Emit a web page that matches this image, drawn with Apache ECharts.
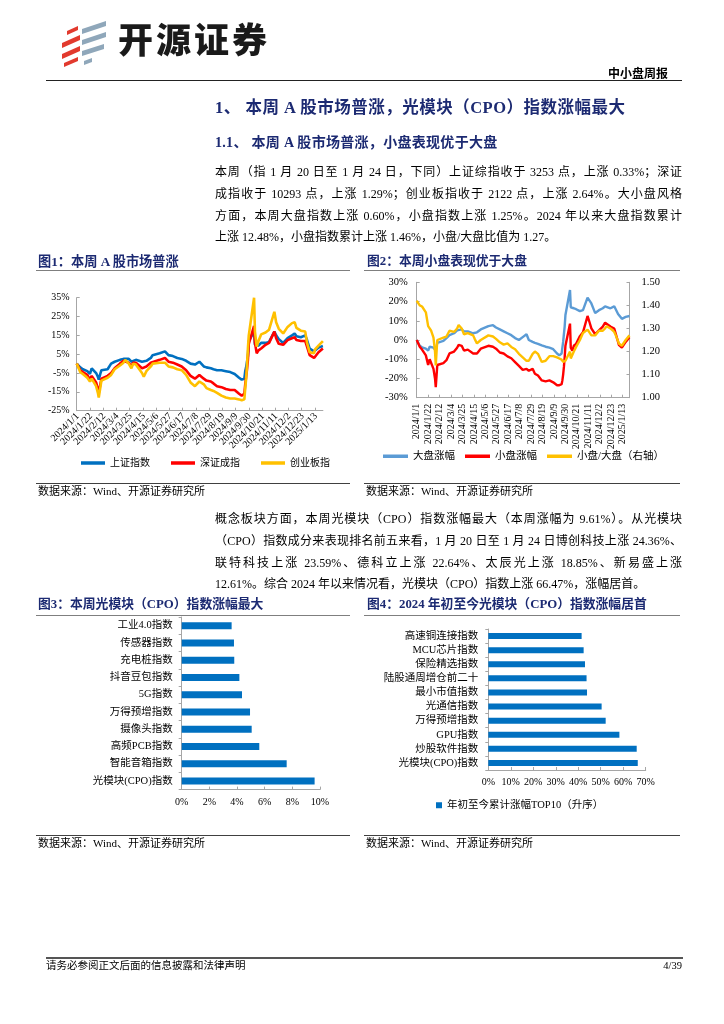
<!DOCTYPE html>
<html><head><meta charset="utf-8">
<script src="https://cdn.jsdelivr.net/npm/echarts@6/dist/echarts.min.js"></script>
<style>
html,body{margin:0;padding:0;background:#fff;}
#page{position:relative;width:724px;height:1024px;overflow:hidden;font-family:"Liberation Serif","Noto Sans CJK SC",serif;color:#000;}
#chart{position:absolute;left:0;top:0;width:724px;height:1024px;}
.t{position:absolute;white-space:nowrap;line-height:1.2;}
.navy{color:#1C2A72;font-weight:bold;}
.hl{position:absolute;height:0;}
.pl{position:absolute;left:215px;width:467px;font-size:12px;line-height:14px;height:14px;text-align:justify;text-align-last:justify;}
.pe{text-align:left;text-align-last:left;}
</style></head>
<body><div id="page">
<div id="chart"></div>

<div class="t" style="left:118px;top:17px;font-family:'Noto Sans CJK SC';font-weight:900;font-size:35px;letter-spacing:3px;color:#1a1a1a;">开源证券</div>
<div class="t" style="right:56px;top:66px;font-size:12px;font-weight:bold;font-family:'Noto Sans CJK SC';">中小盘周报</div>
<div class="hl" style="left:46px;top:80px;width:636px;border-top:1.5px solid #222;"></div>

<div class="t navy" style="left:215px;top:98px;font-size:16.5px;letter-spacing:0.5px;">1、 本周 A 股市场普涨，光模块（CPO）指数涨幅最大</div>
<div class="t navy" style="left:215px;top:134.6px;font-size:14px;letter-spacing:0.3px;">1.1、 本周 A 股市场普涨，小盘表现优于大盘</div>

<div class="pl" style="top:165px;">本周（指 1 月 20 日至 1 月 24 日，下同）上证综指收于 3253 点，上涨 0.33%；深证</div>
<div class="pl" style="top:187px;">成指收于 10293 点，上涨 1.29%；创业板指收于 2122 点，上涨 2.64%。大小盘风格</div>
<div class="pl" style="top:209px;">方面，本周大盘指数上涨 0.60%，小盘指数上涨 1.25%。2024 年以来大盘指数累计</div>
<div class="pl pe" style="top:230px;">上涨 12.48%，小盘指数累计上涨 1.46%，小盘/大盘比值为 1.27。</div>

<div class="t navy" style="left:38px;top:253.5px;font-size:13.2px;">图1：本周 A 股市场普涨</div>
<div class="t navy" style="left:367px;top:254px;font-size:12.8px;">图2：本周小盘表现优于大盘</div>
<div class="hl" style="left:36px;top:270px;width:314px;border-top:1.5px solid #7f7f7f;"></div>
<div class="hl" style="left:364px;top:270px;width:316px;border-top:1.5px solid #7f7f7f;"></div>
<div class="hl" style="left:36px;top:483px;width:314px;border-top:1.5px solid #404040;"></div>
<div class="hl" style="left:364px;top:483px;width:316px;border-top:1.5px solid #404040;"></div>
<div class="t" style="left:38px;top:485px;font-size:11px;">数据来源：Wind、开源证券研究所</div>
<div class="t" style="left:366px;top:485px;font-size:11px;">数据来源：Wind、开源证券研究所</div>

<div class="pl" style="top:512px;">概念板块方面，本周光模块（CPO）指数涨幅最大（本周涨幅为 9.61%）。从光模块</div>
<div class="pl" style="top:534px;">（CPO）指数成分来表现排名前五来看，1 月 20 日至 1 月 24 日博创科技上涨 24.36%、</div>
<div class="pl" style="top:556px;">联特科技上涨 23.59%、德科立上涨 22.64%、太辰光上涨 18.85%、新易盛上涨</div>
<div class="pl pe" style="top:577px;">12.61%。综合 2024 年以来情况看，光模块（CPO）指数上涨 66.47%，涨幅居首。</div>

<div class="t navy" style="left:38px;top:597px;font-size:12.8px;">图3：本周光模块（CPO）指数涨幅最大</div>
<div class="t navy" style="left:367px;top:597px;font-size:12.8px;">图4：2024 年初至今光模块（CPO）指数涨幅居首</div>
<div class="hl" style="left:36px;top:615px;width:314px;border-top:1.5px solid #7f7f7f;"></div>
<div class="hl" style="left:364px;top:615px;width:316px;border-top:1.5px solid #7f7f7f;"></div>
<div class="hl" style="left:36px;top:835px;width:314px;border-top:1.5px solid #404040;"></div>
<div class="hl" style="left:364px;top:835px;width:316px;border-top:1.5px solid #404040;"></div>
<div class="t" style="left:38px;top:837px;font-size:11px;">数据来源：Wind、开源证券研究所</div>
<div class="t" style="left:366px;top:837px;font-size:11px;">数据来源：Wind、开源证券研究所</div>

<div class="hl" style="left:46px;top:957px;width:637px;border-top:2px solid #555;"></div>
<div class="t" style="left:46px;top:960px;font-size:10.5px;">请务必参阅正文后面的信息披露和法律声明</div>
<div class="t" style="right:42px;top:960px;font-size:10.5px;">4/39</div>
</div>
<script>
// ===== data =====
const sampleDates = ['2024/1/1','2024/1/5','2024/1/10','2024/1/12','2024/1/17','2024/1/22','2024/1/24','2024/1/26','2024/1/31','2024/2/2',
 '2024/2/5','2024/2/7','2024/2/8','2024/2/19','2024/2/23','2024/2/29','2024/3/8','2024/3/14','2024/3/18','2024/3/22',
 '2024/3/27','2024/3/29','2024/4/3','2024/4/12','2024/4/16','2024/4/19','2024/4/26','2024/4/30','2024/5/10','2024/5/20',
 '2024/5/24','2024/5/31','2024/6/7','2024/6/14','2024/6/21','2024/6/28','2024/7/5','2024/7/12','2024/7/19','2024/7/24',
 '2024/7/31','2024/8/5','2024/8/9','2024/8/16','2024/8/23','2024/8/30','2024/9/6','2024/9/13','2024/9/18','2024/9/23',
 '2024/9/24','2024/9/25','2024/9/26','2024/9/27','2024/9/30','2024/10/8','2024/10/9','2024/10/11','2024/10/15','2024/10/18',
 '2024/10/25','2024/10/31','2024/11/8','2024/11/12','2024/11/15','2024/11/22','2024/11/29','2024/12/6','2024/12/11','2024/12/13',
 '2024/12/20','2024/12/27','2024/12/31','2025/1/3','2025/1/6','2025/1/10','2025/1/13','2025/1/17','2025/1/20','2025/1/24'];

// 图1 (%)
const shIndex = [0,-2,-3,-3,-4,-5.5,-2.5,-2,-5,-7,
 -8.5,-5,-3.5,-3,0,1,2,2.5,3.5,2.5,
 1,1.5,2,1,0.5,1.5,3,4.5,5.5,6.5,
 4.5,4,3,2.5,1.5,0,-0.5,1,-1.5,-2,
 -2.5,-3,-3.5,-3.5,-4,-4.5,-5.5,-7.5,-8.5,-8,
 -4,-2,1,4,12,17,10,9,9.5,11,
 11,11.5,17,15,13,11,13.5,15,16,14.5,
 14,15,12.5,8,7.5,6.5,7,8.5,8.5,9.3];
const szIndex = [0,-3.5,-4.5,-5,-6,-8.5,-6.5,-6.5,-10,-13.5,
 -15.5,-10.5,-8,-6.5,-5,-2.5,0,1.5,2.5,0.5,
 -1.5,0.5,0.5,-2.5,-3,-1.5,0.5,1.5,2,3,
 1,0.5,-0.5,-1.5,-3.5,-6.5,-8,-6,-8,-9,
 -9.5,-10.5,-12,-12.5,-13.5,-14,-14,-16,-17,-16,
 -11,-7,-3,2,10.5,20,11,5.5,7,8,
 10,11,17,13.5,10.5,10,12.5,13.5,14,12.5,
 12,12,9,4.5,3.5,3,4,6,6.5,8];
const cyIndex = [0,-4.5,-5.5,-6.5,-7.5,-9.5,-8,-8.5,-12,-15.5,
 -18,-12,-9,-7.5,-6,-3,-1,0.5,2,0,
 -2.5,0,-0.5,-5,-7,-4,-1.5,0,0.5,0.5,
 -1.5,-2,-3,-3.5,-6,-10,-12,-9.5,-11,-13,
 -14,-14.5,-15.5,-17,-18,-18.5,-18.5,-19,-19.5,-19,
 -13,-8,-1,8,15,35,17,9,12,15.5,
 16.5,18,27.5,22,18.5,16,19.5,21.5,22,19,
 17.5,17,11,6,5,5.5,7.5,9.5,10,12];

// 图2
const largeCap = [0,-3,-3.8,-4,-4.5,-5.5,-3.5,-3,-4,-5,
 -5.5,-1.5,-1,-0.5,1,2.5,3.5,5,5.5,5.5,
 4.5,4,4.5,3.5,3,4,5.5,6,7.2,7.7,
 6.5,5.5,4.5,3.5,2.5,1,0,1.5,3,0,
 -1,-1.5,-2,-2.8,-3.5,-4,-4.8,-7,-8,-7,
 -4,-1,3,7,13,26,17,16,16.5,16,
 15,15.5,22,21,19,14,15.5,16.5,17.5,18,
 16.5,17.5,17,13.5,12.5,11,11.5,12,12.5,12.48];
const smallCap = [0,-3.5,-5,-6,-8,-13,-10,-11,-15,-20,
 -24.5,-13,-12,-12,-10.5,-7,-6,-4,-2.5,-3,
 -5.5,-4.5,-5,-7,-8,-7,-4.5,-3.5,-3,-3.5,
 -4.5,-6.5,-7,-8.5,-9.5,-11.5,-13.5,-15.5,-15,-16,
 -15,-17.5,-18.5,-21,-21.5,-21,-22,-23.5,-23.5,-23,
 -21,-18,-14,-9,-3,8.5,-4,-5.5,-3,-2,
 2,4,12.5,10,6,3,5,7,9,10,
 7,6,5,-1,-2.5,-4,-4.5,-1,0,1.46];
const smallLargeRatio = [1.42,1.40,1.395,1.39,1.37,1.31,1.30,1.29,1.26,1.20,
 1.14,1.25,1.255,1.26,1.265,1.29,1.285,1.30,1.315,1.30,
 1.275,1.28,1.28,1.27,1.255,1.235,1.25,1.255,1.27,1.265,
 1.255,1.24,1.23,1.235,1.22,1.21,1.19,1.175,1.16,1.16,
 1.19,1.20,1.19,1.155,1.16,1.18,1.18,1.175,1.17,1.165,
 1.16,1.155,1.15,1.15,1.16,1.20,1.17,1.17,1.20,1.22,
 1.25,1.28,1.295,1.285,1.27,1.27,1.29,1.29,1.30,1.31,
 1.30,1.285,1.27,1.245,1.235,1.225,1.22,1.25,1.255,1.27];

// 图3
const fig3Cats = ['工业4.0指数','传感器指数','充电桩指数','抖音豆包指数','5G指数','万得预增指数','摄像头指数','高频PCB指数','智能音箱指数','光模块(CPO)指数'];
const fig3Vals = [3.61,3.78,3.80,4.17,4.36,4.94,5.06,5.61,7.59,9.61];
// 图4
const fig4Cats = ['高速铜连接指数','MCU芯片指数','保险精选指数','陆股通周增仓前二十','最小市值指数','光通信指数','万得预增指数','GPU指数','炒股软件指数','光模块(CPO)指数'];
const fig4Vals = [41.5,42.4,43.0,43.7,43.9,50.4,52.2,58.3,66.0,66.47];

// weekday axis 2024/1/1 – 2025/1/24
const axisDays = [];
for (let t = Date.UTC(2024,0,1); t <= Date.UTC(2025,0,24); t += 86400000) {
  const d = new Date(t), w = d.getUTCDay();
  if (w !== 0 && w !== 6) axisDays.push(d.getUTCFullYear() + '/' + (d.getUTCMonth()+1) + '/' + d.getUTCDate());
}
// tick labels every 15 weekdays (3 weeks)
const tickLabels = axisDays.filter((d, i) => i % 15 === 0);
const pair = arr => sampleDates.map((d,i) => [d, arr[i]]);

const FONT = '"Liberation Serif","Noto Sans CJK SC",serif';
const AX = {color:'#a6a6a6', width:1};
const lab = (o) => Object.assign({color:'#000', fontFamily:FONT, fontSize:10}, o);

function para(x1,y1,x2,y2,h,c){
  return {type:'polygon', shape:{points:[[x1,y1],[x2,y2],[x2,y2+h],[x1,y1+h]]}, style:{fill:c}, silent:true};
}
const RED='#E23A2E', GRY='#8FA7BA';
const logo = [
  para(67,31,78,26,4,RED), para(62,43,80,35,5,RED), para(62,54,80,46,5,RED), para(64,63,78,57,4,RED),
  para(82,29,106,21,5,GRY), para(82,40,106,32,5,GRY), para(82,51,104,44,5,GRY), para(84,61,92,58,4,GRY)
];

const chart = echarts.init(document.getElementById('chart'), null, {width:724, height:1024});
chart.setOption({
  animation:false,
  backgroundColor:'transparent',
  textStyle:{fontFamily:FONT},
  grid:[
    {left:76.7, top:297.7, width:246.2, height:113, containLabel:false, outerBoundsMode:'none'},
    {left:416.7, top:282.3, width:212.8, height:115.4, containLabel:false, outerBoundsMode:'none'},
    {left:181.7, top:617, width:138.3, height:172.6, containLabel:false, outerBoundsMode:'none'},
    {left:488.3, top:629, width:157.4, height:141, containLabel:false, outerBoundsMode:'none'}
  ],
  xAxis:[
    {gridIndex:0, type:'category', data:axisDays, boundaryGap:false,
     axisLine:{onZero:false, lineStyle:AX}, axisTick:{interval:14, inside:true, length:3, lineStyle:AX},
     axisLabel:{show:false}},
    {gridIndex:1, type:'category', data:axisDays, boundaryGap:false,
     axisLine:{onZero:false, lineStyle:AX}, axisTick:{interval:14, inside:true, length:3, lineStyle:AX},
     axisLabel:lab({interval:14, rotate:90, margin:6, hideOverlap:false})},
    {gridIndex:2, type:'value', min:0, max:10, interval:2, splitLine:{show:false},
     axisLine:{show:true, onZero:false, lineStyle:AX}, axisTick:{show:true, inside:true, length:3, lineStyle:AX},
     axisLabel:lab({formatter:'{value}%', margin:8})},
    {gridIndex:3, type:'value', min:0, max:70, interval:10, splitLine:{show:false},
     axisLine:{show:true, onZero:false, lineStyle:AX}, axisTick:{show:true, inside:true, length:3, lineStyle:AX},
     axisLabel:lab({formatter:'{value}%', margin:7})}
  ],
  yAxis:[
    {gridIndex:0, type:'value', min:-25, max:35, interval:10, splitLine:{show:false},
     axisLine:{show:true, onZero:false, lineStyle:AX}, axisTick:{show:true, inside:true, length:3, lineStyle:AX},
     axisLabel:lab({formatter:'{value}%', margin:7})},
    {gridIndex:1, type:'value', min:-30, max:30, interval:10, splitLine:{show:false}, alignTicks:false,
     axisLine:{show:true, onZero:false, lineStyle:AX}, axisTick:{show:true, inside:true, length:3, lineStyle:AX},
     axisLabel:lab({formatter:'{value}%', margin:9, fontSize:10.5})},
    {gridIndex:1, type:'value', position:'right', min:1, max:1.5, interval:0.1, splitLine:{show:false}, alignTicks:false,
     axisLine:{show:true, onZero:false, lineStyle:AX}, axisTick:{show:true, inside:true, length:3, lineStyle:AX},
     axisLabel:lab({formatter:v => v.toFixed(2), margin:12, fontSize:10.5})},
    {gridIndex:2, type:'category', data:fig3Cats, inverse:true,
     axisLine:{onZero:false, lineStyle:AX}, axisTick:{show:true, length:3, lineStyle:AX},
     axisLabel:lab({margin:9, fontSize:10.5})},
    {gridIndex:3, type:'category', data:fig4Cats, inverse:true,
     axisLine:{onZero:false, lineStyle:AX}, axisTick:{show:true, length:3, lineStyle:AX},
     axisLabel:lab({margin:10, fontSize:10.5})}
  ],
  legend:[
    {data:['上证指数','深证成指','创业板指'], left:81, top:458, padding:0, itemGap:21,
     icon:'rect', itemWidth:24, itemHeight:3.5, textStyle:{fontSize:10, color:'#000', fontFamily:FONT}},
    {data:['大盘涨幅','小盘涨幅','小盘/大盘（右轴）'], left:383, top:451, padding:0, itemGap:10,
     icon:'rect', itemWidth:25, itemHeight:3.5, textStyle:{fontSize:10.5, color:'#000', fontFamily:FONT}},
    {data:['年初至今累计涨幅TOP10（升序）'], left:436, top:800, padding:0,
     icon:'rect', itemWidth:6, itemHeight:6, textStyle:{fontSize:10.5, color:'#000', fontFamily:FONT}}
  ],
  series:[
    {name:'上证指数', type:'line', xAxisIndex:0, yAxisIndex:0, data:pair(shIndex), showSymbol:false, symbol:'none', color:'#0070C0', lineStyle:{width:2.6}},
    {name:'深证成指', type:'line', xAxisIndex:0, yAxisIndex:0, data:pair(szIndex), showSymbol:false, symbol:'none', color:'#FF0000', lineStyle:{width:2.6}},
    {name:'创业板指', type:'line', xAxisIndex:0, yAxisIndex:0, data:pair(cyIndex), showSymbol:false, symbol:'none', color:'#FFC000', lineStyle:{width:2.6}},
    {name:'大盘涨幅', type:'line', xAxisIndex:1, yAxisIndex:1, data:pair(largeCap), showSymbol:false, symbol:'none', color:'#5B9BD5', lineStyle:{width:2.4}},
    {name:'小盘涨幅', type:'line', xAxisIndex:1, yAxisIndex:1, data:pair(smallCap), showSymbol:false, symbol:'none', color:'#FF0000', lineStyle:{width:2.4}},
    {name:'小盘/大盘（右轴）', type:'line', xAxisIndex:1, yAxisIndex:2, data:pair(smallLargeRatio), showSymbol:false, symbol:'none', color:'#FFC000', lineStyle:{width:2.4}},
    {name:'本周涨幅', type:'bar', xAxisIndex:2, yAxisIndex:3, data:fig3Vals, barWidth:7, color:'#0070C0'},
    {name:'年初至今累计涨幅TOP10（升序）', type:'bar', xAxisIndex:3, yAxisIndex:4, data:fig4Vals, barWidth:6, color:'#0070C0'}
  ],
  graphic:logo
});

// 图1 x-axis tick labels, placed through the chart's own category scale (45° rotation)
const axisY = chart.convertToPixel({yAxisIndex:0}, -25);
const tickTexts = tickLabels.map(d => ({
  type:'text', silent:true,
  x: chart.convertToPixel({xAxisIndex:0}, d) + 1,
  y: axisY + 4,
  rotation: Math.PI / 4,
  style:{text:d, fontSize:10, fontFamily:FONT, fill:'#000', align:'right', verticalAlign:'middle'}
}));
chart.setOption({graphic: logo.concat(tickTexts)});
</script>
</body></html>
